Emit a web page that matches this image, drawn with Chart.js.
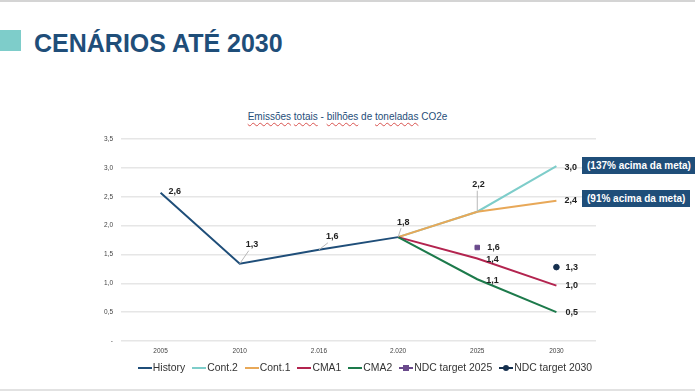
<!DOCTYPE html>
<html><head><meta charset="utf-8">
<script src="https://cdn.jsdelivr.net/npm/chart.js@4/dist/chart.umd.min.js"></script>
<style>
html,body{margin:0;padding:0;background:#fff;width:695px;height:392px;overflow:hidden;font-family:"Liberation Sans",Arial,sans-serif;}
#wrap{position:relative;width:695px;height:392px;}
canvas{position:absolute;left:0;top:0;}
.topline{position:absolute;left:0;top:0;width:695px;height:2px;background:#d4d4d4;}
.botline{position:absolute;left:0;top:389px;width:695px;height:2px;background:#e2e2e2;}
.sq{position:absolute;left:0;top:30px;width:21px;height:21px;background:#7ecdca;}
.title{position:absolute;left:34px;top:28px;font-size:25px;font-weight:bold;color:#1f4e79;line-height:30px;white-space:nowrap;}
.ctitle{position:absolute;left:0;width:695px;top:111px;text-align:center;font-size:10px;color:#1f4e79;white-space:nowrap;}
.ctitle .sp{text-decoration:underline wavy #d9534f;text-decoration-thickness:1px;text-underline-offset:2px;}
.box{position:absolute;background:#1f4e79;color:#fff;font-weight:bold;font-size:10px;line-height:17px;height:17px;padding:0 5px;white-space:nowrap;}
#legend{position:absolute;left:0;top:361px;width:730px;display:flex;justify-content:center;font-size:10.4px;color:#333;line-height:14px;}
.li{display:flex;align-items:center;margin:0 3.5px;white-space:nowrap;}
.ls{position:relative;width:14px;height:2px;margin-right:1px;}
.lm{position:absolute;left:4px;top:-2px;width:6px;height:6px;}
</style></head>
<body><div id="wrap">
<div class="topline"></div>
<div class="sq"></div>
<div class="title">CENÁRIOS ATÉ 2030</div>
<div class="ctitle"><span class="sp">Emissões</span> <span class="sp">totais</span> - <span class="sp">bilhões</span> de <span class="sp">toneladas</span> CO2e</div>
<canvas id="c" width="695" height="392"></canvas>
<div class="box" style="left:582px;top:157px;">(137% acima da meta)</div>
<div class="box" style="left:582px;top:190px;">(91% acima da meta)</div>
<div id="legend"></div>
<div class="botline"></div>
</div>
<script>
// ---- data ----
const categories = ['2005','2010','2.016','2.020','2025','2030'];
const yTickLabels = ['-','0,5','1,0','1,5','2,0','2,5','3,0','3,5'];
const historyVals = [2.57,1.34,1.58,1.80,null,null];
const cont2Vals   = [null,null,null,1.80,2.24,3.03];
const cont1Vals   = [null,null,null,1.80,2.24,2.43];
const cma1Vals    = [null,null,null,1.80,1.43,0.96];
const cma2Vals    = [null,null,null,1.80,1.07,0.50];
const ndc2025Vals = [null,null,null,null,1.62,null];
const ndc2030Vals = [null,null,null,null,null,1.28];
const seriesNames = ['History','Cont.2','Cont.1','CMA1','CMA2','NDC target 2025','NDC target 2030'];

// ---- styles ----
const colors = ['#1f4e79','#7ecdca','#e8a858','#b3244f','#1d7a4b','#6a4a8c','#16304f'];

const datasets = [
  {label:seriesNames[0],data:historyVals,borderColor:colors[0],borderWidth:2,pointRadius:0,order:1},
  {label:seriesNames[1],data:cont2Vals,borderColor:colors[1],borderWidth:2,pointRadius:0,order:5},
  {label:seriesNames[2],data:cont1Vals,borderColor:colors[2],borderWidth:2,pointRadius:0,order:4},
  {label:seriesNames[3],data:cma1Vals,borderColor:colors[3],borderWidth:2,pointRadius:0,order:3},
  {label:seriesNames[4],data:cma2Vals,borderColor:colors[4],borderWidth:2,pointRadius:0,order:2},
  {label:seriesNames[5],data:ndc2025Vals,borderColor:colors[5],backgroundColor:colors[5],showLine:false,pointStyle:'rect',pointRadius:3.2,order:0},
  {label:seriesNames[6],data:ndc2030Vals,borderColor:colors[6],backgroundColor:colors[6],showLine:false,pointStyle:'circle',pointRadius:2.8,order:0}
];

// label placements: dataset index, point index, text offset, leader end offset
const labelSpecs = [
  {ds:0,i:0,dx:8,dy:-1},
  {ds:0,i:1,dx:6,dy:-19,lx:9,ly:-13},
  {ds:0,i:2,dx:7,dy:-13,lx:9,ly:-7},
  {ds:0,i:3,dx:-1,dy:-15,lx:3,ly:-9},
  {ds:2,i:4,dx:-5,dy:-27,lx:0,ly:-21},
  {ds:1,i:5,dx:8,dy:1},
  {ds:2,i:5,dx:8,dy:0},
  {ds:5,i:4,dx:10,dy:0},
  {ds:3,i:4,dx:9,dy:1},
  {ds:4,i:4,dx:9,dy:1},
  {ds:6,i:5,dx:9,dy:0},
  {ds:3,i:5,dx:9,dy:0},
  {ds:4,i:5,dx:9,dy:0}
];

const fmt = v => v.toFixed(1).replace('.', ',');

const labelPlugin = {
  id:'dlabels',
  afterDatasetsDraw(chart){
    const ctx = chart.ctx;
    ctx.save();
    ctx.font = 'bold 9px "Liberation Sans", Arial, sans-serif';
    ctx.fillStyle = '#222';
    ctx.textAlign = 'left';
    ctx.textBaseline = 'middle';
    labelSpecs.forEach(s=>{
      const pt = chart.getDatasetMeta(s.ds).data[s.i];
      const v = chart.data.datasets[s.ds].data[s.i];
      if(s.lx!==undefined){
        ctx.strokeStyle = '#b8b8b8';
        ctx.lineWidth = 1;
        ctx.beginPath();
        ctx.moveTo(pt.x, pt.y);
        ctx.lineTo(pt.x+s.lx, pt.y+s.ly);
        ctx.stroke();
      }
      ctx.fillText(fmt(v), pt.x+s.dx, pt.y+s.dy);
    });
    ctx.restore();
  }
};

new Chart(document.getElementById('c'), {
  type:'line',
  data:{labels:categories,datasets:datasets},
  options:{
    responsive:false,
    animation:false,
    devicePixelRatio:1,
    layout:{padding:{left:0,right:99,top:139,bottom:0}},
    plugins:{legend:{display:false},tooltip:{enabled:false},title:{display:false}},
    elements:{line:{tension:0}},
    scales:{
      x:{
        offset:true,
        grid:{display:false,drawTicks:false},
        border:{display:false},
        ticks:{color:'#444',font:{size:6.5,family:'"Liberation Sans", Arial, sans-serif'},padding:6,maxRotation:0},
        afterFit(s){ s.height = 51; }
      },
      y:{
        min:0,max:3.5,
        grid:{color:'#e6e6e6',lineWidth:1.5,drawTicks:false},
        border:{display:false},
        ticks:{stepSize:0.5,color:'#444',font:{size:6.5,family:'"Liberation Sans", Arial, sans-serif'},padding:8,
          callback:(v,idx)=>yTickLabels[idx]},
        afterFit(s){ s.width = 121; }
      }
    }
  },
  plugins:[labelPlugin]
});

// HTML legend built from datasets
const leg = document.getElementById('legend');
datasets.forEach((d,k)=>{
  const item = document.createElement('div'); item.className='li';
  const sw = document.createElement('span'); sw.className='ls'; sw.style.background=d.borderColor;
  if(d.showLine===false){
    const m=document.createElement('span'); m.className='lm'; m.style.background=d.backgroundColor;
    if(d.pointStyle==='circle') m.style.borderRadius='50%';
    sw.appendChild(m);
  }
  item.appendChild(sw);
  const t=document.createElement('span'); t.textContent=d.label; item.appendChild(t);
  leg.appendChild(item);
});
</script>
</body></html>
